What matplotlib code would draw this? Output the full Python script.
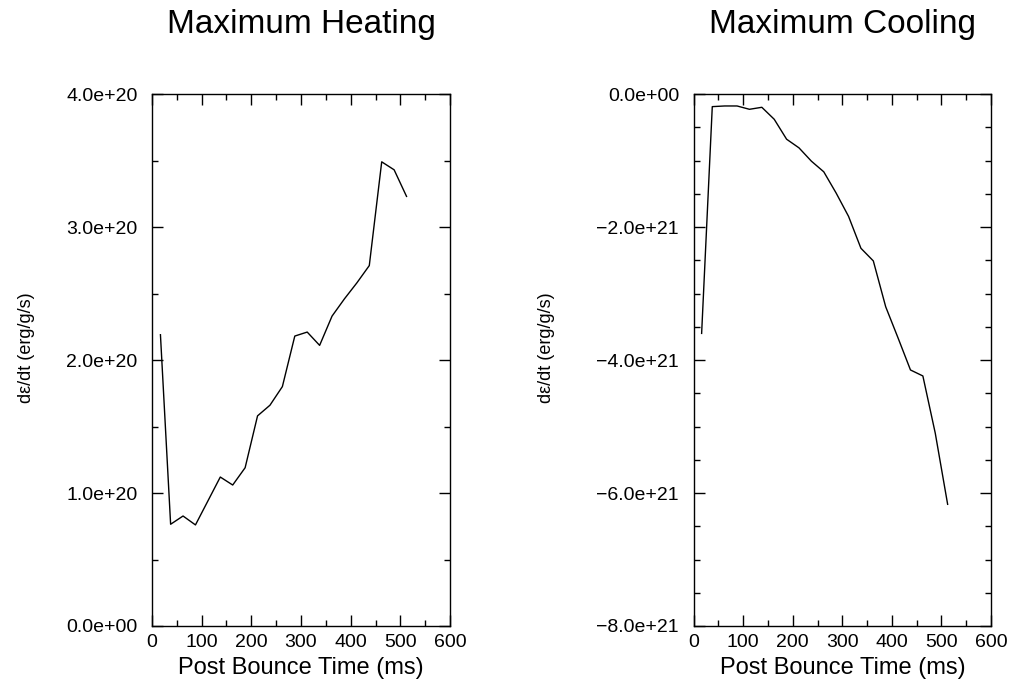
import matplotlib
matplotlib.use("Agg")
import matplotlib.pyplot as plt
from matplotlib.ticker import MultipleLocator, FuncFormatter

plt.rcParams['font.family'] = ['Liberation Sans', 'DejaVu Sans']

# heating: post bounce time (ms) vs max heating rate (erg/g/s)
heat_t = [17, 37.5, 62.5, 87.5, 112.5, 137.5, 162.5, 187.5, 212.5, 237.5, 262.5,
          287.5, 312.5, 337.5, 362.5, 387.5, 412.5, 437.5, 462.5, 487.5, 512.5]
heat_v = [2.19e20, 0.765e20, 0.827e20, 0.76e20, 0.94e20, 1.12e20, 1.06e20, 1.19e20,
          1.58e20, 1.66e20, 1.80e20, 2.18e20, 2.21e20, 2.11e20, 2.33e20, 2.46e20,
          2.58e20, 2.71e20, 3.49e20, 3.43e20, 3.23e20]

# cooling
cool_t = [16, 37.5, 62.5, 87.5, 112.5, 137.5, 162.5, 187.5, 212.5, 237.5, 262.5,
          287.5, 312.5, 337.5, 362.5, 387.5, 412.5, 437.5, 462.5, 487.5, 512.5]
cool_v = [-3.60e21, -0.19e21, -0.18e21, -0.18e21, -0.23e21, -0.20e21, -0.38e21,
          -0.68e21, -0.81e21, -1.01e21, -1.17e21, -1.49e21, -1.84e21, -2.32e21,
          -2.51e21, -3.20e21, -3.67e21, -4.15e21, -4.24e21, -5.10e21, -6.17e21]


def sci(v, pos):
    s = "%.1e" % v
    if s.startswith("-"):
        s = "\u2212" + s[1:]
    return s


def style(ax, ymaj, ymin, ylab_x):
    ax.set_xlim(0, 600)
    ax.xaxis.set_major_locator(MultipleLocator(100))
    ax.xaxis.set_minor_locator(MultipleLocator(50))
    ax.yaxis.set_major_locator(MultipleLocator(ymaj))
    ax.yaxis.set_minor_locator(MultipleLocator(ymin))
    ax.yaxis.set_major_formatter(FuncFormatter(sci))
    ax.tick_params(which='both', direction='in', top=True, right=True, labelsize=14)
    ax.tick_params(axis='y', pad=10.5)
    ax.tick_params(axis='x', pad=6)
    ax.tick_params(which='major', length=8, width=1)
    ax.tick_params(which='minor', length=4, width=1)
    for sp in ax.spines.values():
        sp.set_linewidth(1)
    ax.set_xlabel('Post Bounce Time (ms)', fontsize=17, labelpad=4)
    ax.set_ylabel('d\u03b5/dt (erg/g/s)', fontsize=13)
    ax.yaxis.set_label_coords(ylab_x, 0.524)


fig = plt.figure(figsize=(10.12, 6.87), dpi=100)
W, H = 1012.0, 687.0

ax1 = fig.add_axes([152 / W, 61 / H, 298 / W, 532 / H])
ax1.plot(heat_t, heat_v, color='black', lw=1)
ax1.set_ylim(0, 4e20)
style(ax1, 1e20, 0.5e20, -0.393)
ax1.set_title('Maximum Heating', fontsize=24, pad=44)

ax2 = fig.add_axes([693.7 / W, 61 / H, 297.3 / W, 532 / H])
ax2.plot(cool_t, cool_v, color='black', lw=1)
ax2.set_ylim(-8e21, 0)
style(ax2, 2e21, 0.5e21, -0.4665)
ax2.set_title('Maximum Cooling', fontsize=24, pad=44)

fig.savefig('out.png', dpi=100)
